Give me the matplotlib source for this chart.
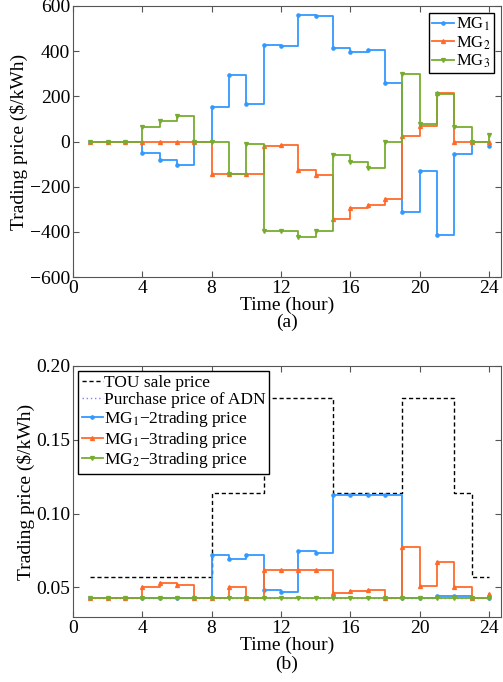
import matplotlib
matplotlib.use("Agg")
import matplotlib.pyplot as plt
import numpy as np

# 時段 1~24
hours = np.arange(1, 25)

# (a) 各微電網交易電價
mg1 = [0, 0, 0, -53, -81, -105, 0, 152, 295, 167, 428, 424,
       560, 555, 413, 395, 403, 261, -311, -130, -416, -55, 0, -18]
mg2 = [0, 0, 0, 0, 0, 0, 0, -144, -144, -144, -18, -15,
       -127, -150, -344, -293, -280, -255, 24, 67, 216, 0, 0, 0]
mg3 = [0, 0, 0, 62, 89, 113, 0, 0, -144, -12, -396, -396,
       -422, -396, -61, -92, -116, 0, 298, 76, 210, 64, 0, 27]

# (b) 電價
tou = [0.057] * 7 + [0.114] * 3 + [0.178] * 4 + [0.114] * 4 + [0.178] * 3 + [0.114] + [0.057] * 2
adn = [0.043] * 24
mg12 = [0.043] * 7 + [0.0723, 0.0694, 0.0723, 0.048, 0.047, 0.075, 0.0732,
                      0.1128, 0.1128, 0.1128, 0.1128, 0.043, 0.043, 0.044, 0.044, 0.043, 0.043]
mg13 = [0.043, 0.043, 0.043, 0.050, 0.053, 0.052, 0.043, 0.043, 0.050, 0.043, 0.0617, 0.0617,
        0.0617, 0.0617, 0.046, 0.0473, 0.0486, 0.043, 0.0775, 0.0513, 0.0673, 0.050, 0.043, 0.0453]
mg23 = [0.043] * 24

plt.rcParams["font.family"] = ["Liberation Serif", "DejaVu Serif"]
plt.rcParams["mathtext.fontset"] = "stix"
plt.rcParams["axes.edgecolor"] = "#555555"
plt.rcParams["xtick.color"] = "#555555"
plt.rcParams["ytick.color"] = "#555555"
plt.rcParams["xtick.labelcolor"] = "black"
plt.rcParams["ytick.labelcolor"] = "black"

blue = "#3399ff"
orange = "#ff6a2a"
green = "#77ac30"

fig = plt.figure(figsize=(5.03, 6.82), dpi=100)
ax1 = fig.add_axes([73 / 503, 1 - 277 / 682, 428 / 503, 271 / 682])
ax2 = fig.add_axes([73 / 503, 1 - 617 / 682, 428 / 503, 251 / 682])

fs = 14

# 上圖
ax1.plot(hours, mg1, drawstyle="steps-post", color=blue, lw=1.3, marker="o", ms=2.3, label="MG$_1$")
ax1.plot(hours, mg2, drawstyle="steps-post", color=orange, lw=1.3, marker="^", ms=2.8, label="MG$_2$")
ax1.plot(hours, mg3, drawstyle="steps-post", color=green, lw=1.3, marker="v", ms=2.8, label="MG$_3$")
ax1.set_xlim(0, 24.7)
ax1.set_ylim(-600, 600)
ax1.set_xticks(range(0, 25, 4))
ax1.set_yticks(range(-600, 601, 200))
ax1.set_xlabel("Time (hour)", fontsize=fs, labelpad=0)
ax1.set_ylabel(r"Trading price (\$/kWh)", fontsize=fs, labelpad=1)
ax1.text(0.5, -0.166, "(a)", transform=ax1.transAxes, ha="center", va="center", fontsize=fs)
leg1 = ax1.legend(loc="upper right", fontsize=12, handlelength=1.3, handletextpad=0.15,
                  borderpad=0.2, labelspacing=0.05, fancybox=False, framealpha=1,
                  borderaxespad=0.4)
leg1.get_frame().set_edgecolor("black")

# 下圖
ax2.plot(hours, tou, drawstyle="steps-post", color="black", lw=1, ls=(0, (3, 2)), label="TOU sale price")
ax2.plot(hours, adn, drawstyle="steps-post", color="#8080ff", lw=1, ls=(0, (1, 2)), label="Purchase price of ADN")
ax2.plot(hours, mg12, drawstyle="steps-post", color=blue, lw=1.3, marker="o", ms=2.3, label="MG$_1$\u22122trading price")
ax2.plot(hours, mg13, drawstyle="steps-post", color=orange, lw=1.3, marker="^", ms=2.8, label="MG$_1$\u22123trading price")
ax2.plot(hours, mg23, drawstyle="steps-post", color=green, lw=1.3, marker="v", ms=2.8, label="MG$_2$\u22123trading price")
ax2.set_xlim(0, 24.7)
ax2.set_ylim(0.03, 0.20)
ax2.set_xticks(range(0, 25, 4))
ax2.set_yticks([0.05, 0.10, 0.15, 0.20])
ax2.set_yticklabels(["0.05", "0.10", "0.15", "0.20"])
ax2.set_xlabel("Time (hour)", fontsize=fs, labelpad=0)
ax2.set_ylabel(r"Trading price (\$/kWh)", fontsize=fs, labelpad=1)
ax2.text(0.5, -0.19, "(b)", transform=ax2.transAxes, ha="center", va="center", fontsize=fs)
leg2 = ax2.legend(loc="upper left", fontsize=12.5, handlelength=1.2, handletextpad=0.1,
                  borderpad=0.2, labelspacing=0.05, fancybox=False, framealpha=1,
                  borderaxespad=0.3)
leg2.get_frame().set_edgecolor("black")

for ax in (ax1, ax2):
    ax.tick_params(direction="in", top=True, right=True, labelsize=fs, length=4, pad=2)

plt.savefig("out.png", dpi=100)
